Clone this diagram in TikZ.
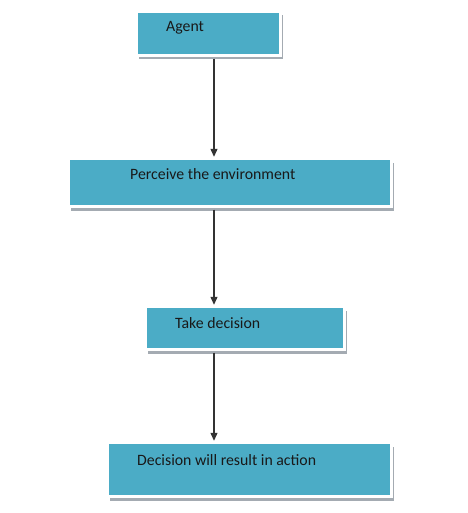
\documentclass[tikz,border=0pt]{standalone}
\usepackage{fontspec}
\setmainfont{Carlito}
\usepackage{tikz}
\usetikzlibrary{arrows.meta,positioning,shadows}

\definecolor{boxblue}{HTML}{4BACC6}
\definecolor{shadowgray}{HTML}{A4ABB2}
\definecolor{arrowgray}{HTML}{333333}

\begin{document}
\begin{tikzpicture}[x=1pt,y=-1pt]
\tikzstyle{stepbox}=[rectangle,fill=boxblue,draw=gray!12,double=white,double distance=2.4pt,line width=0.4pt,inner sep=0pt,
  drop shadow={shadow xshift=2pt,shadow yshift=-4pt,fill=shadowgray,opacity=1}]
\tikzstyle{steptext}=[anchor=base west,inner sep=0pt,text=black!90,font=\fontsize{15.8}{18}\selectfont]
\tikzstyle{flow}=[draw=arrowgray,line width=1.1pt,-{Triangle[length=8pt,width=7pt]},shorten <=3pt,shorten >=1.5pt]
\useasboundingbox (0,0) rectangle (467,513);
\fill[white] (0,0) rectangle (467,513);
% boxes
\node[stepbox,minimum width=144pt,minimum height=44pt] (agent) at (208.5,33.5) {};
\node[stepbox,minimum width=323pt,minimum height=48pt] (perceive) at (230,182.5) {};
\node[stepbox,minimum width=199pt,minimum height=43pt] (decide) at (245,328) {};
\node[stepbox,minimum width=284pt,minimum height=54pt] (act) at (249.5,469.5) {};
% texts
\node[steptext] (agenttxt) at (166,32) {Agent};
\node[steptext] (perceivetxt) at (130,179) {Perceive the environment};
\node[steptext] (decidetxt) at (175,328) {Take decision};
\node[steptext] (acttxt) at (137,465) {Decision will result in action};
% arrows
\coordinate (axis) at (214,0);
\draw[flow] (agent.south -| axis) -- (perceive.north -| axis);
\draw[flow] (perceive.south -| axis) -- (decide.north -| axis);
\draw[flow] (decide.south -| axis) -- (act.north -| axis);
\end{tikzpicture}
\end{document}
